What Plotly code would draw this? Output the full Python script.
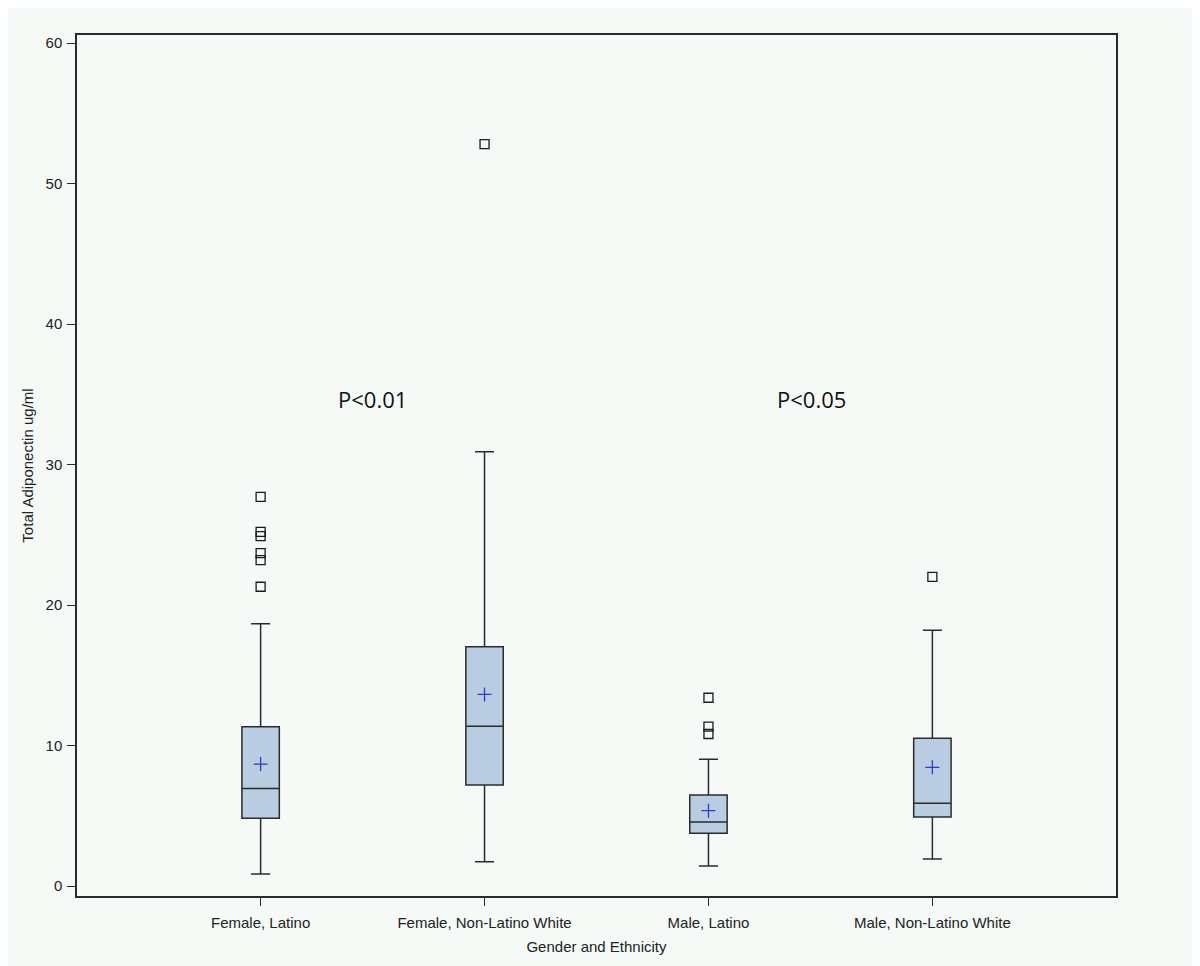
import plotly.graph_objects as go

categories = ["Female, Latino", "Female, Non-Latino White", "Male, Latino", "Male, Non-Latino White"]
q1 = [4.82, 7.19, 3.75, 4.91]
median = [6.95, 11.37, 4.56, 5.89]
q3 = [11.34, 17.03, 6.48, 10.51]
lower_whisker = [0.85, 1.73, 1.42, 1.92]
upper_whisker = [18.67, 30.9, 9.02, 18.2]
means = [8.68, 13.64, 5.36, 8.45]
outliers = {
    "Female, Latino": [27.7, 25.2, 24.9, 23.7, 23.2, 21.3],
    "Female, Non-Latino White": [52.8],
    "Male, Latino": [13.4, 11.34, 10.82],
    "Male, Non-Latino White": [22.0],
}
annotations_text = ["P<0.01", "P<0.05"]
annotation_x = [0.5, 2.46]
annotation_y = [34.66, 34.66]

fig = go.Figure()
fig.add_trace(go.Box(
    x=categories, q1=q1, median=median, q3=q3,
    lowerfence=lower_whisker, upperfence=upper_whisker,
    fillcolor="#b9cde2", line=dict(color="#2b2b2b", width=1.5),
    width=0.167, whiskerwidth=0.51, boxpoints=False, showlegend=False,
    hoverinfo="skip",
))

ox, oy = [], []
for c in categories:
    for v in outliers[c]:
        ox.append(c)
        oy.append(v)
fig.add_trace(go.Scatter(
    x=ox, y=oy, mode="markers", showlegend=False,
    marker=dict(symbol="square-open", size=9, color="#1a1a1a", line=dict(width=1.3)),
))
fig.add_trace(go.Scatter(
    x=categories, y=means, mode="markers", showlegend=False,
    marker=dict(symbol="cross-thin", size=10, color="#3535d0", line=dict(width=1.3, color="#3535d0")),
))

for t, xx, yy in zip(annotations_text, annotation_x, annotation_y):
    fig.add_annotation(x=xx, y=yy, text=t, showarrow=False, xref="x", yref="y",
                       font=dict(family="Open Sans", size=22, color="#111111"))

axis_font = dict(family="Liberation Sans, Arial", size=15, color="#222222")
fig.update_layout(
    width=1189, height=958,
    margin=dict(l=69, r=81, t=27, b=70),
    paper_bgcolor="#f5faf7", plot_bgcolor="#f5faf7",
    font=axis_font,
    xaxis=dict(
        type="category", range=[-0.82, 3.82], showgrid=False, zeroline=False,
        showline=True, linecolor="#2b2b2b", linewidth=1.5, mirror=True,
        ticks="outside", ticklen=8, tickcolor="#2b2b2b", tickwidth=1,
        tickfont=axis_font, ticklabelstandoff=4,
        title=dict(text="Gender and Ethnicity", font=dict(family="Liberation Sans, Arial", size=15, color="#222222"), standoff=12),
    ),
    yaxis=dict(
        range=[-0.71, 60.57], showgrid=False, zeroline=False,
        showline=True, linecolor="#2b2b2b", linewidth=1.5, mirror=True,
        ticks="outside", ticklen=8, tickcolor="#2b2b2b", tickwidth=1,
        tickvals=[0, 10, 20, 30, 40, 50, 60], tickfont=axis_font, ticklabelstandoff=2,
        title=dict(text="Total Adiponectin ug/ml", font=dict(family="Liberation Sans, Arial", size=15, color="#222222"), standoff=8),
    ),
)

fig.write_html("out.html")
